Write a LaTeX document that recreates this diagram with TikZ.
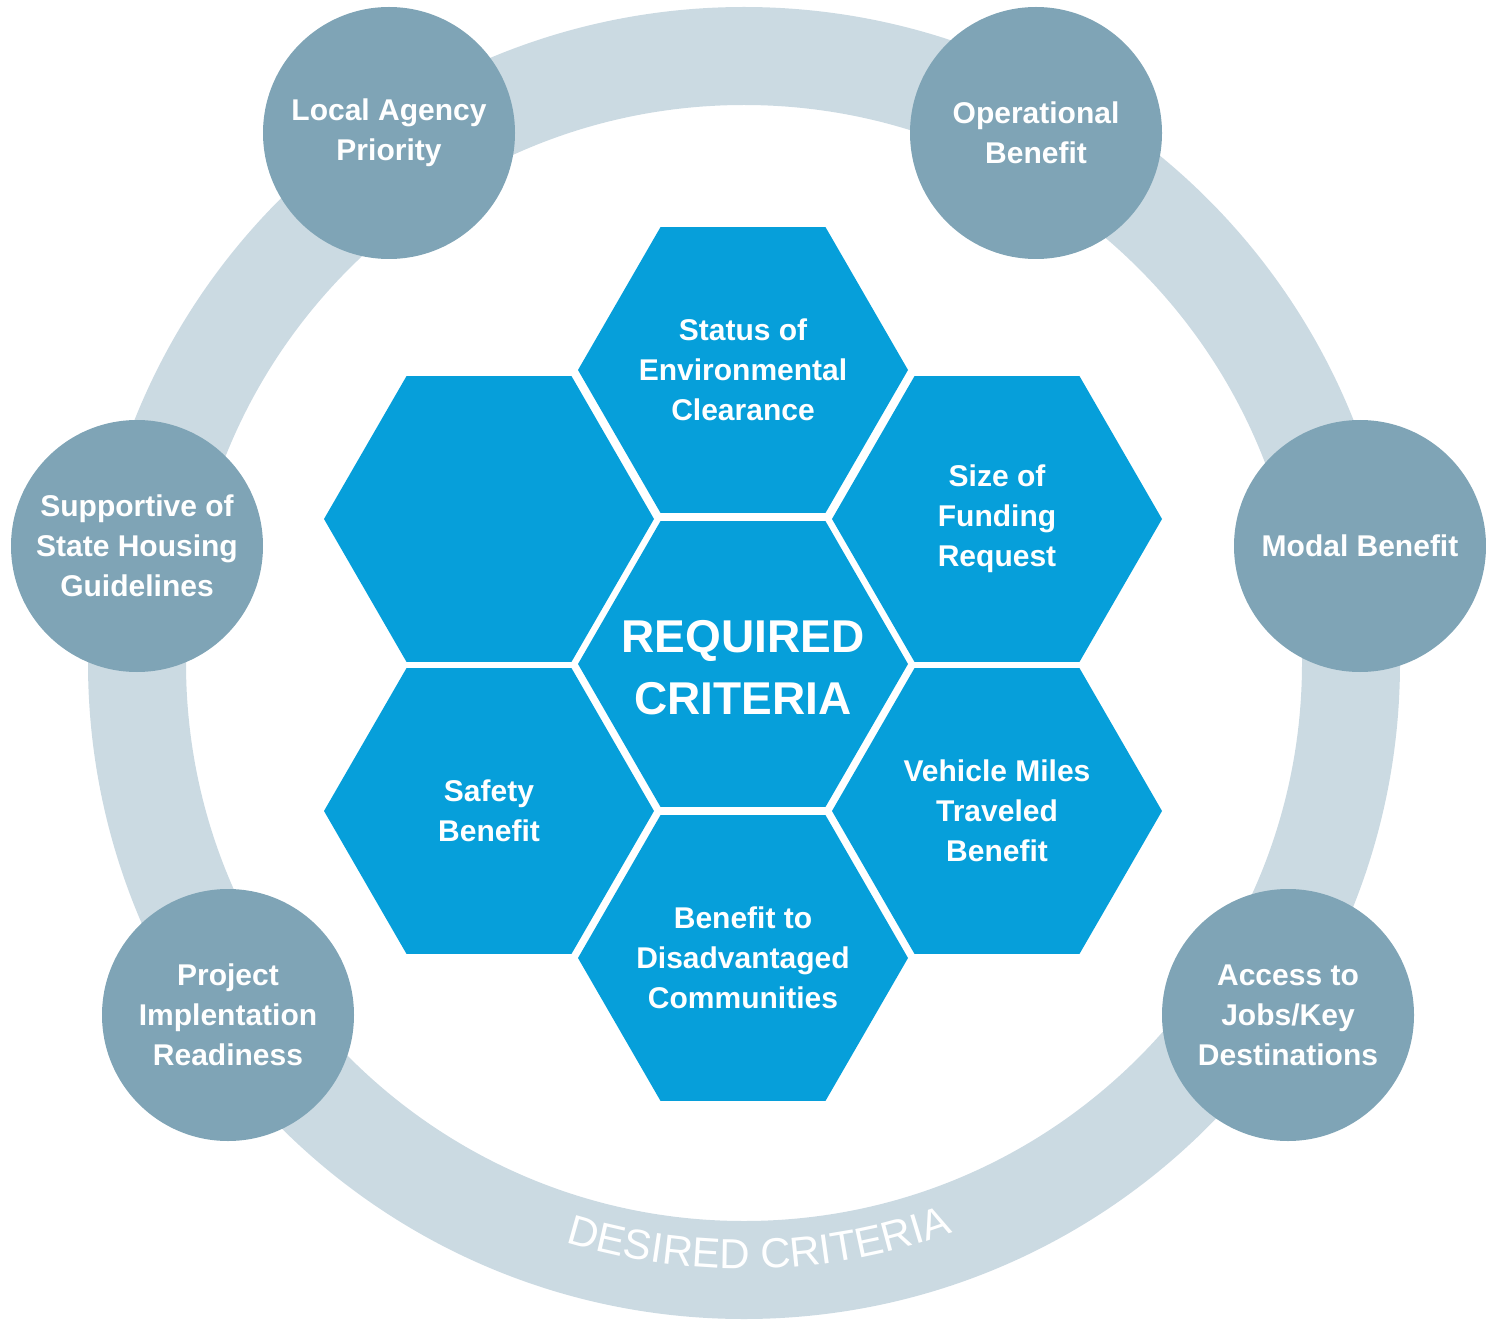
\documentclass[tikz,border=0pt]{standalone}
\usepackage{fontspec}
\setmainfont{Liberation Sans}
\usetikzlibrary{shapes.geometric,positioning,decorations.text}

\definecolor{hexblue}{RGB}{6,159,218}
\definecolor{bubblegrey}{RGB}{127,164,182}
\definecolor{ringgrey}{RGB}{203,218,226}

\begin{document}
\begin{tikzpicture}[
                        x=1pt,
                        y=-1pt,
                        node distance=294pt,
                        every node/.style={text=white,align=center,font=\bfseries\fontsize{30}{40}\selectfont},
                        hexa/.style={regular polygon,regular polygon sides=6,minimum size=330pt,inner sep=-30pt,fill=hexblue},
                        bubble/.style={circle,minimum size=252pt,inner sep=0pt,fill=bubblegrey}
                    ]
                    \useasboundingbox (0,0) rectangle (1486,1321);

                    % ring
                    \coordinate (mid) at (744,663);
                    \draw[ringgrey,line width=98pt] (mid) circle (607);
                    \path[decorate,decoration={text along path,text align=center,
                        text={|\mdseries\fontsize{42}{42}\selectfont\color{white}|DESIRED CRITERIA}}]
                        (mid) ++(124:606) arc (124:53:606);

                    % desired criteria
                    \node[bubble] (local)   at (389,133)  {Local Agency\\Priority};
                    \node[bubble] (oper)    at (1036,133) {Operational\\Benefit};
                    \node[bubble] (housing) at (137,546)  {Supportive of\\State Housing\\Guidelines};
                    \node[bubble] (modal)   at (1360,546) {Modal Benefit};
                    \node[bubble] (ready)   at (228,1015) {Project\\Implentation\\Readiness};
                    \node[bubble] (access)  at (1288,1015) {Access to\\Jobs/Key\\Destinations};

                    % required criteria
                    \node[hexa] (req) at (743,664) {};
                    \node[font=\bfseries\fontsize{46}{62}\selectfont] (reqtext) at ([yshift=-4pt]req.center) {REQUIRED\\CRITERIA};
                    \node[hexa] (env) [above of=req] {Status of\\Environmental\\Clearance};
                    \node[hexa] (dac) [below of=req] {Benefit to\\Disadvantaged\\Communities};
                    \node[hexa] (blank) [on grid,above left=145pt and 254pt of req] {};
                    \node[hexa] (fund)  [on grid,above right=145pt and 254pt of req] {Size of\\Funding\\Request};
                    \node[hexa] (safe)  [on grid,below left=147pt and 254pt of req] {Safety\\Benefit};
                    \node[hexa] (vmt)   [on grid,below right=147pt and 254pt of req] {Vehicle Miles\\Traveled\\Benefit};
                \end{tikzpicture}
\end{document}
